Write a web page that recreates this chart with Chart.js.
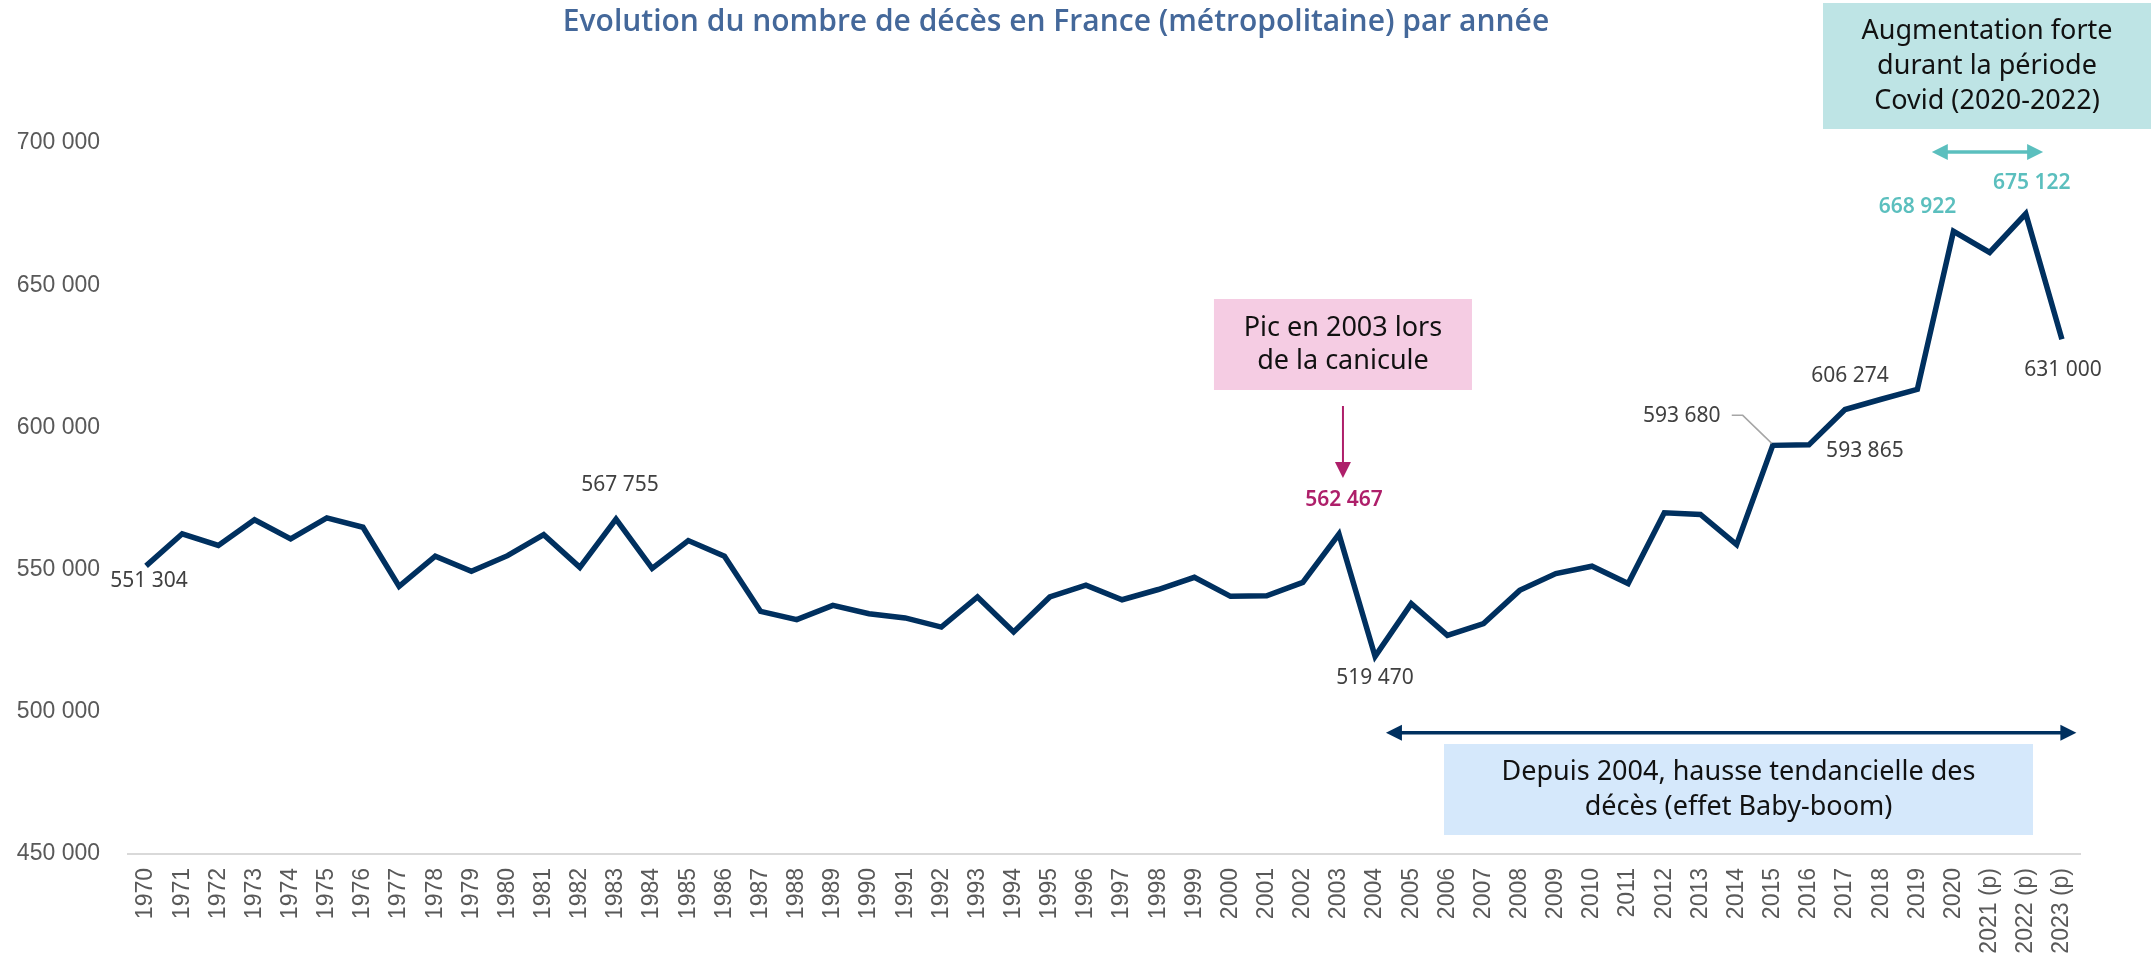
<!DOCTYPE html>
<html>
<head>
<meta charset="utf-8">
<script src="https://cdn.jsdelivr.net/npm/chart.js@4.4.1/dist/chart.umd.min.js"></script>
<style>
  html, body { margin: 0; padding: 0; background: #fff; }
  #wrap { width: 2156px; height: 958px; position: relative; }
</style>
</head>
<body>
<div id="wrap"><canvas id="deces"></canvas></div>
<script>
// années (p = provisoire)
const years = ['1970','1971','1972','1973','1974','1975','1976','1977','1978','1979',
  '1980','1981','1982','1983','1984','1985','1986','1987','1988','1989',
  '1990','1991','1992','1993','1994','1995','1996','1997','1998','1999',
  '2000','2001','2002','2003','2004','2005','2006','2007','2008','2009',
  '2010','2011','2012','2013','2014','2015','2016','2017','2018','2019',
  '2020','2021 (p)','2022 (p)','2023 (p)'];

// nombre de décès, France métropolitaine
const deaths = [551304, 562600, 558500, 567500, 560800, 568200, 564900, 544100, 554700, 549400,
  554900, 562300, 550800, 567755, 550400, 560200, 554700, 535300, 532400, 537400,
  534500, 533000, 529800, 540400, 528100, 540400, 544500, 539400, 543000, 547300,
  540600, 540800, 545500, 562467, 519470, 538000, 526900, 531000, 542700, 548600,
  551200, 545100, 570000, 569400, 558800, 593680, 593865, 606274, 609900, 613400,
  668922, 661500, 675122, 631000];

const yTicks = [450000, 500000, 550000, 600000, 650000, 700000];

const NAVY = '#00305F';
const TEAL = '#5BBFBE';
const MAGENTA = '#AE1F6A';
const GREY = '#404040';

function fmt(v) { return String(v).replace(/\B(?=(\d{3})+(?!\d))/g, ' '); }

// étiquettes de données : index, décalage, couleur
const labelled = [
  { i: 0,  dx: 3,   dy: 15,  color: GREY },
  { i: 13, dx: 4,   dy: -34, color: GREY },
  { i: 33, dx: 5,   dy: -34, color: MAGENTA, bold: true },
  { i: 34, dx: 0,   dy: 22,  color: GREY },
  { i: 45, dx: -91, dy: -29, color: GREY, leader: true },
  { i: 46, dx: 56,  dy: 6,   color: GREY },
  { i: 47, dx: 5,   dy: -34, color: GREY },
  { i: 50, dx: -36, dy: -24, color: TEAL, bold: true },
  { i: 52, dx: 6,   dy: -31, color: TEAL, bold: true },
  { i: 53, dx: 1,   dy: 31,  color: GREY }
];

function dblArrow(ctx, x1, x2, y, color, lw, head) {
  ctx.save();
  ctx.strokeStyle = color; ctx.fillStyle = color; ctx.lineWidth = lw;
  ctx.beginPath(); ctx.moveTo(x1 + head - 2, y); ctx.lineTo(x2 - head + 2, y); ctx.stroke();
  ctx.beginPath(); ctx.moveTo(x1, y); ctx.lineTo(x1 + head, y - 8); ctx.lineTo(x1 + head, y + 8); ctx.closePath(); ctx.fill();
  ctx.beginPath(); ctx.moveTo(x2, y); ctx.lineTo(x2 - head, y - 8); ctx.lineTo(x2 - head, y + 8); ctx.closePath(); ctx.fill();
  ctx.restore();
}

function box(ctx, x1, y1, x2, y2, bg, lines, lh) {
  ctx.save();
  ctx.fillStyle = bg;
  ctx.fillRect(x1, y1, x2 - x1, y2 - y1);
  ctx.fillStyle = '#111';
  ctx.font = '27px "Noto Sans"';
  ctx.textAlign = 'center'; ctx.textBaseline = 'middle';
  const cx = (x1 + x2) / 2, cy = (y1 + y2) / 2;
  lines.forEach((t, k) => ctx.fillText(t, cx, cy + (k - (lines.length - 1) / 2) * lh));
  ctx.restore();
}

const annotations = {
  id: 'annotations',
  afterDraw(chart) {
    const ctx = chart.ctx, xs = chart.scales.x, ys = chart.scales.y;
    const pts = chart.getDatasetMeta(0).data;

    // titre
    ctx.save();
    ctx.font = '600 30px "Open Sans"';
    ctx.fillStyle = '#44689A';
    ctx.textAlign = 'center'; ctx.textBaseline = 'middle';
    ctx.fillText('Evolution du nombre de décès en France (métropolitaine) par année', 1056, 22);
    ctx.restore();

    // étiquettes de valeurs
    labelled.forEach(l => {
      const p = pts[l.i];
      ctx.save();
      ctx.font = (l.bold ? '600 ' : '') + '21px "Noto Sans"';
      ctx.fillStyle = l.color;
      ctx.textAlign = 'center'; ctx.textBaseline = 'middle';
      ctx.fillText(fmt(deaths[l.i]), p.x + l.dx, p.y + l.dy);
      if (l.leader) {
        ctx.strokeStyle = '#A6A6A6'; ctx.lineWidth = 1.5;
        ctx.beginPath();
        ctx.moveTo(p.x + l.dx + 50, p.y + l.dy - 1);
        ctx.lineTo(p.x + l.dx + 61, p.y + l.dy - 1);
        ctx.lineTo(p.x - 1, p.y - 2);
        ctx.stroke();
      }
      ctx.restore();
    });

    // canicule 2003
    const x03 = xs.getPixelForValue(33);
    box(ctx, x03 - 125, 299, x03 + 133, 390, '#F5CCE3', ['Pic en 2003 lors', 'de la canicule'], 33);
    ctx.save();
    ctx.strokeStyle = MAGENTA; ctx.fillStyle = MAGENTA; ctx.lineWidth = 2;
    ctx.beginPath(); ctx.moveTo(x03 + 4, 406); ctx.lineTo(x03 + 4, 464); ctx.stroke();
    ctx.beginPath(); ctx.moveTo(x03 + 4, 478); ctx.lineTo(x03 - 4, 462); ctx.lineTo(x03 + 12, 462); ctx.closePath(); ctx.fill();
    ctx.restore();

    // période Covid
    box(ctx, 1823, 3, 2151, 129, '#BEE4E5', ['Augmentation forte', 'durant la période', 'Covid (2020-2022)'], 35);
    dblArrow(ctx, xs.getPixelForValue(49.4), xs.getPixelForValue(52.48), 152, TEAL, 3.5, 16);

    // tendance depuis 2004
    const yArr = ys.getPixelForValue(492600);
    dblArrow(ctx, xs.getPixelForValue(34.3), xs.getPixelForValue(53.4), yArr, NAVY, 3.5, 16);
    box(ctx, 1444, 744, 2033, 835, '#D5E8FB', ['Depuis 2004, hausse tendancielle des', 'décès (effet Baby-boom)'], 35);
  }
};

new Chart(document.getElementById('deces'), {
  type: 'line',
  data: {
    labels: years,
    datasets: [{
      label: 'Décès',
      data: deaths,
      borderColor: NAVY,
      borderWidth: 5.5,
      pointRadius: 0,
      tension: 0,
      borderJoinStyle: 'miter',
      fill: false
    }]
  },
  options: {
    responsive: true,
    maintainAspectRatio: false,
    animation: false,
    layout: { padding: { top: 143, right: 76, left: 0, bottom: 0 } },
    plugins: { legend: { display: false }, tooltip: { enabled: false } },
    scales: {
      x: {
        offset: true,
        grid: { display: false, drawTicks: false },
        border: { display: true, color: '#D9D9D9', width: 2 },
        ticks: {
          autoSkip: false, minRotation: 90, maxRotation: 90, padding: 14,
          color: '#595959', font: { family: '"Liberation Sans", Arial', size: 23 }
        },
        afterFit: s => { s.height = 104; }
      },
      y: {
        min: 450000, max: 700000,
        afterBuildTicks: s => { s.ticks = yTicks.map(v => ({ value: v })); },
        grid: { display: false, drawTicks: false },
        border: { display: false },
        ticks: {
          padding: 28, color: '#595959',
          font: { family: '"Liberation Sans", Arial', size: 23 },
          callback: v => fmt(v)
        },
        afterFit: s => { s.width = 128; }
      }
    }
  },
  plugins: [annotations]
});
</script>
</body>
</html>
